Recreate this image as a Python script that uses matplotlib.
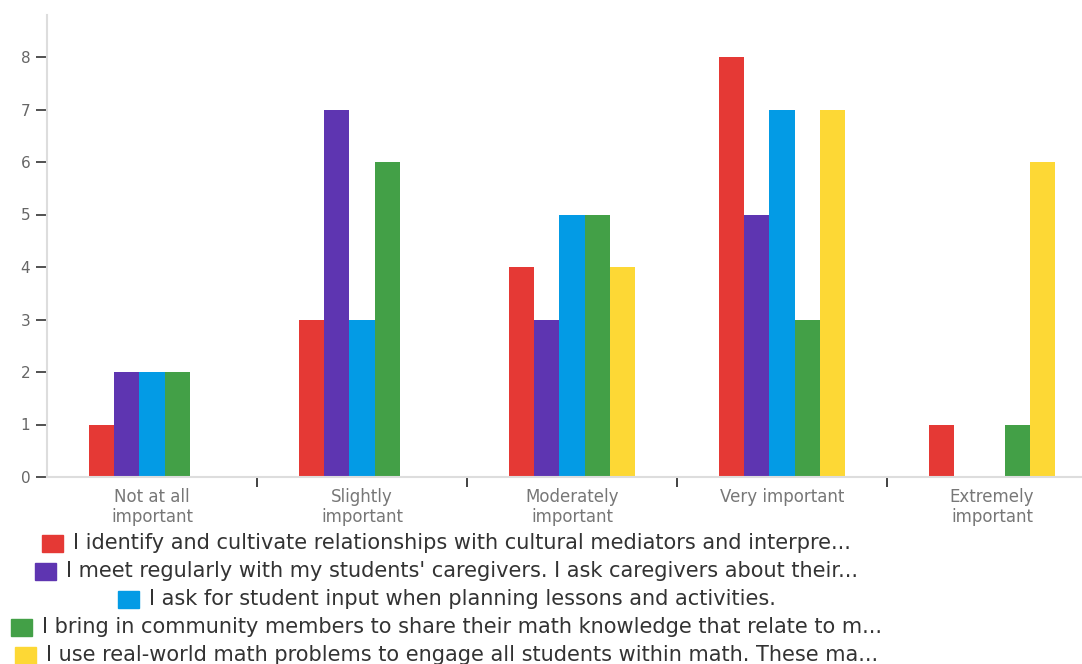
import numpy as np
import matplotlib
matplotlib.use("Agg")
import matplotlib.pyplot as plt
from matplotlib.patches import Rectangle

plt.rcParams['font.family'] = ['DejaVu Sans']

categories = ["Not at all\nimportant", "Slightly\nimportant", "Moderately\nimportant",
              "Very important", "Extremely\nimportant"]
series_labels = [
    "I identify and cultivate relationships with cultural mediators and interpre...",
    "I meet regularly with my students' caregivers. I ask caregivers about their...",
    "I ask for student input when planning lessons and activities.",
    "I bring in community members to share their math knowledge that relate to m...",
    "I use real-world math problems to engage all students within math. These ma...",
]
identify = [1, 3, 4, 8, 1]
meet = [2, 7, 3, 5, 0]
student_input = [2, 3, 5, 7, 0]
community = [2, 6, 5, 3, 1]
real_world = [0, 0, 4, 7, 6]
series = [identify, meet, student_input, community, real_world]
colors = ["#E53935", "#5E35B1", "#039BE5", "#43A047", "#FDD835"]

W, H = 1082, 664
fig = plt.figure(figsize=(W / 100, H / 100), dpi=100)
# axes runs a little past the right edge
left, right, top, bottom = 47, 1097, 15, 477
ax = fig.add_axes([left / W, 1 - bottom / H, (right - left) / W, (bottom - top) / H])

x = np.arange(len(categories))
bw = 0.12
for i, (vals, c) in enumerate(zip(series, colors)):
    ax.bar(x + (i - 2) * bw, vals, width=bw, color=c, linewidth=0)

ax.set_xlim(-0.5, len(categories) - 0.5)
ax.set_ylim(0, 8.8)
ax.set_yticks(range(0, 9))
ax.tick_params(axis='y', length=8, width=1.2, color="#333333", labelcolor="#666666",
               labelsize=11, pad=4)
ax.set_xticks(x)
ax.set_xticklabels(categories, color="#777777", fontsize=12, linespacing=1.1)
ax.tick_params(axis='x', length=0, pad=8)
# separators between the groups
ax.set_xticks(x[1:] - 0.5, minor=True)
ax.tick_params(axis='x', which='minor', length=7, width=1.3, color="#333333")

for s in ["top", "right"]:
    ax.spines[s].set_visible(False)
ax.spines["left"].set_color("#dddddd")
ax.spines["bottom"].set_color("#dddddd")
ax.spines["left"].set_linewidth(1.5)
ax.spines["bottom"].set_linewidth(1.5)

# legend: one centred row per series
fig.canvas.draw()
renderer = fig.canvas.get_renderer()
cx = 462
ys = [543, 571, 599, 627, 655]
sq_w, sq_h = 21, 17
for lab, c, yy in zip(series_labels, colors, ys):
    t = fig.text(cx / W, 1 - yy / H, lab, ha='center', va='center', fontsize=15,
                 color="#333333")
    bb = t.get_window_extent(renderer)
    x0 = bb.x0 - 10 - sq_w
    fig.patches.append(Rectangle((x0 / W, (H - yy - sq_h / 2) / H), sq_w / W, sq_h / H,
                                 transform=fig.transFigure, color=c, figure=fig))

fig.savefig("out.png", dpi=100)
